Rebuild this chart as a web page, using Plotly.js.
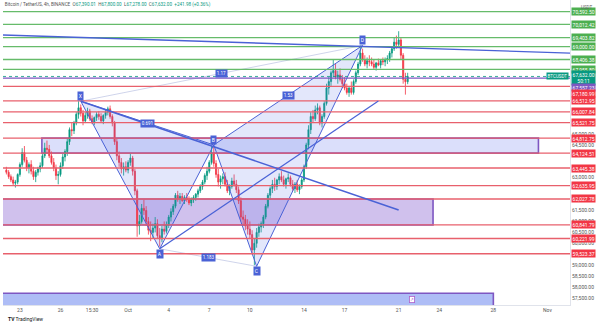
<!DOCTYPE html>
<html><head><meta charset="utf-8">
<script src="https://cdn.plot.ly/plotly-3.0.1.min.js"></script>
<style>html,body{margin:0;padding:0;background:#fff}#chart{width:600px;height:327px}</style>
</head><body><div id="chart"></div>
<script>
// ---- Data (4h candles, BTCUSDT) ----
const startTime = "2024-09-22 00:00";
const opens = [63350,63250,63050,62900,62750,62800, 63150,63600,64150,63800,63450,63600, 63300,63050,63250,63400,63550,64000,
64350,64300,64000,63700,63450,63100, 63150,63550,63950,64200,64650,65200, 65150,65500,65900,66200,65950,65600,
65850,66050,65700,65550,65750,65900, 65800,65600,65850,66000,66150,65800, 65500,64650,64000,63700,63400,63500,
63350,63700,63900,63300,62400,60800, 61000,61600,61500,61000,60600,60500, 60700,60900,60350,60200,60650,60550,
60850,61200,61450,61700,62200,62050, 62150,61950,62100,62000,61850,62000, 62100,62250,62400,62600,62800,63100,
63300,63700,64100,63650,63150,62800, 62950,63050,62700,62400,62600,62850, 62700,62450,61950,61200,61100,60800,
60650,60400,59700,60000,60500,60750, 60900,61200,61700,62200,62500,62700, 62600,62900,63050,62900,62700,62950,
63000,62700,62500,62700,62450,62600, 62900,63500,64500,65200,65800,65700, 66100,66200,65500,65800,66400,67100,
67400,67800,67900,67600,67700,67500, 67300,67100,66900,67100,66900,67400, 67800,68200,68700,68400,68200,68350,
68300,68200,68050,68250,68150,68350, 68300,68400,68450,68700,68900,69200, 69100,69300,68600,67500,67390.01];
const highs = [63500,63350,63150,63050,62900,63200, 63700,64350,64450,63950,63700,63800, 63500,63350,63500,63700,64100,64600,
64700,64500,64200,63900,63600,63300, 63700,64100,64300,64800,65300,65500, 65600,66000,66500,66350,66100,66000,
66200,66150,65850,65800,66000,66050, 65950,65900,66100,66250,66300,65900, 65600,64800,64200,63900,63700,63750,
63800,64100,64000,63400,62500,61300, 61800,62000,61700,61200,61000,60900, 61200,61100,60700,60800,61000,61000,
61300,61600,61800,62300,62400,62300, 62300,62200,62300,62150,62100,62200, 62300,62500,62700,62900,63200,63500,
63800,64450,64450,63800,63400,63100, 63200,63250,62900,62700,63000,63150, 62900,62600,62100,61500,61300,61100,
61000,60600,60200,60700,60900,61000, 61300,61800,62300,62600,62900,63000, 62950,63200,63300,63100,63000,63200,
63100,62900,62800,62900,62700,63000, 63600,64600,65400,66000,66100,66300, 66400,66300,65900,66500,67300,67600,
67900,68400,68200,67900,68000,67700, 67600,67300,67200,67400,67500,67900, 68300,69050,68900,68600,68500,68600,
68500,68400,68300,68450,68400,68500, 68500,68600,68800,69000,69400,69500, 69700,69400,68700,67800,67800];
const lows = [63150,62950,62800,62650,62550,62700, 63050,63500,63700,63300,63200,63150, 62900,62800,63100,63250,63450,63900,
64150,63900,63600,63300,62900,62700, 63050,63400,63750,64000,64500,64900, 65000,65400,65700,65800,65400,65500,
65700,65600,65450,65400,65600,65650, 65500,65450,65700,65850,65700,65350, 64500,63800,63500,63200,63100,63250,
63200,63550,63100,62200,60300,60400, 60900,61300,60800,60400,60100,60200, 60500,60200,59850,60050,60400,60450,
60700,61000,61300,61600,61900,61800, 61900,61800,61900,61750,61700,61850, 61950,62100,62300,62450,62700,62900,
63200,63600,63500,63000,62600,62500, 62700,62600,62300,62200,62500,62600, 62300,61800,61000,60800,60600,60400,
60200,59500,59000,59800,60300,60500, 60700,61100,61600,62000,62300,62400, 62450,62700,62800,62600,62500,62800,
62600,62400,62300,62350,62250,62500, 62800,63400,64300,65000,65500,65600, 65900,65400,65300,65700,66300,66800,
67200,67600,67500,67300,67400,67100, 67000,66800,66700,66800,66800,67300, 67700,68100,68300,68100,68000,68100,
68100,67950,67900,68100,68000,68150, 68100,68200,68300,68500,68800,68900, 69000,68400,67300,66800,67278];
const closes = [63250,63050,62900,62750,62800,63150, 63600,64150,63800,63450,63600,63300, 63050,63250,63400,63550,64000,64350,
64300,64000,63700,63450,63100,63150, 63550,63950,64200,64650,65200,65150, 65500,65900,66200,65950,65600,65850,
66050,65700,65550,65750,65900,65800, 65600,65850,66000,66150,65800,65500, 64650,64000,63700,63400,63500,63350,
63700,63900,63300,62400,60800,61000, 61600,61500,61000,60600,60500,60700, 60900,60350,60200,60650,60550,60850,
61200,61450,61700,62200,62050,62150, 61950,62100,62000,61850,62000,62100, 62250,62400,62600,62800,63100,63300,
63700,64100,63650,63150,62800,62950, 63050,62700,62400,62600,62850,62700, 62450,61950,61200,61100,60800,60650,
60400,59700,60000,60500,60750,60900, 61200,61700,62200,62500,62700,62600, 62900,63050,62900,62700,62950,63000,
62700,62500,62700,62450,62600,62900, 63500,64500,65200,65800,65700,66100, 66200,65500,65800,66400,67100,67400,
67800,67900,67600,67700,67500,67300, 67100,66900,67100,66900,67400,67800, 68200,68700,68400,68200,68350,68300,
68200,68050,68250,68150,68350,68300, 68400,68450,68700,68900,69200,69100, 69300,68600,67500,67390.02,67632];

const greenLevels = [70592.50, 70012.42, 69403.82, 69000.00, 68406.38, 67955.80];
const purpleLevels = [67557.23];
const redLevels = [67180.99, 66512.95, 66007.84, 65521.75, 64812.75, 64124.51, 63445.38, 62635.95, 62027.78, 60841.79, 60221.99, 59523.37];
const lastPrice = 67632.00;
const countdown = "50:11";

// harmonic XABCD pattern points
const patNames = ["X","A","B","C","D"];
const patTimes = ["2024-09-27 12:00","2024-10-03 08:00","2024-10-07 08:00","2024-10-10 12:00","2024-10-18 08:00"];
const patPrices = [66500, 59750, 64500, 58950, 69050];
const ratioLabels = {XB:"0.691", AC:"1.183", XD:"1.17", BD:"1.53"};

// trend lines [t0, p0, t1, p1]
const trendTop = ["2024-09-21 18:00", 69530, "2024-11-02 16:00", 68700];
const trendDown = ["2024-09-27 12:00", 66500, "2024-10-21 00:00", 61525];
const trendUp = ["2024-10-03 08:00", 59750, "2024-10-19 12:00", 66510];

// zones [t0, t1, pLow, pHigh]
const zoneA = ["2024-09-24 15:00", "2024-10-31 08:00", 64124.51, 64812.75];
const zoneB = ["2024-09-21 12:00", "2024-10-23 13:00", 60841.79, 62027.78];
const zoneC = ["2024-09-21 12:00", "2024-10-28 00:00", 56900, 57720];

const xTickVals = ["2024-09-23","2024-09-26","2024-09-28 08:00","2024-10-01","2024-10-04","2024-10-07","2024-10-10","2024-10-14","2024-10-17","2024-10-21","2024-10-24","2024-10-28","2024-11-01"];
const xTickText = ["23","26","15:30","Oct","4","7","10","14","17","21","24","28","Nov"];
const yTickVals = [57500,58000,58500,59000,60000,60500,61000,61500,63000,64500,65000];

// ---- build ----
const times = [];
const t0 = Date.parse(startTime.replace(" ","T")+":00Z");
for (let i=0;i<closes.length;i++){ times.push(new Date(t0+i*4*3600e3).toISOString().slice(0,16).replace("T"," ")); }
function tms(s){return Date.parse(s.replace(" ","T")+":00Z");}
function mid(a,b){return new Date((tms(a)+tms(b))/2).toISOString().slice(0,16).replace("T"," ");}
function fmt(v){return v.toLocaleString("en-US",{minimumFractionDigits:2,maximumFractionDigits:2});}

const BLUE = "#4a62d6";
const PFILL = "rgba(90,112,232,0.17)";
const GREEN = "#66bb6a", RED = "#e8606c", PURPLE = "#7e57c2", TEAL = "#089981";

const traces = [];
traces.push({type:"scatter",mode:"lines",x:[patTimes[0],patTimes[1],patTimes[2],patTimes[0]],y:[patPrices[0],patPrices[1],patPrices[2],patPrices[0]],fill:"toself",fillcolor:PFILL,line:{color:BLUE,width:1},hoverinfo:"skip",showlegend:false});
traces.push({type:"scatter",mode:"lines",x:[patTimes[2],patTimes[3],patTimes[4],patTimes[2]],y:[patPrices[2],patPrices[3],patPrices[4],patPrices[2]],fill:"toself",fillcolor:PFILL,line:{color:BLUE,width:1},hoverinfo:"skip",showlegend:false});
traces.push({type:"scatter",mode:"lines",x:[patTimes[0],patTimes[4]],y:[patPrices[0],patPrices[4]],line:{color:"rgba(120,135,200,0.45)",width:0.8},hoverinfo:"skip",showlegend:false});
traces.push({type:"scatter",mode:"lines",x:[patTimes[1],patTimes[3]],y:[patPrices[1],patPrices[3]],line:{color:"rgba(120,135,200,0.45)",width:0.8},hoverinfo:"skip",showlegend:false});

traces.push({type:"candlestick",x:times,open:opens,high:highs,low:lows,close:closes,
  increasing:{line:{color:TEAL,width:0.8},fillcolor:TEAL},
  decreasing:{line:{color:"#f23645",width:0.8},fillcolor:"#f23645"},
  whiskerwidth:0,hoverinfo:"skip",showlegend:false});

const shapes = [];
function rect(z, fill, line){ shapes.push({type:"rect",xref:"x",yref:"y",x0:z[0],x1:z[1],y0:z[2],y1:z[3],fillcolor:fill,line:{color:line,width:1.6},layer:"below"}); }
rect(zoneA,"rgba(170,178,245,0.42)",PURPLE);
rect(zoneB,"rgba(150,118,215,0.45)",PURPLE);
rect(zoneC,"rgba(120,145,240,0.6)",PURPLE);
function hline(p,c,w,dash){ shapes.push({type:"line",xref:"paper",x0:0,x1:1,yref:"y",y0:p,y1:p,line:{color:c,width:w,dash:dash||"solid"}}); }
greenLevels.forEach(p=>hline(p,GREEN,1.3));
redLevels.forEach(p=>hline(p,RED,1.3));
purpleLevels.forEach(p=>hline(p,PURPLE,1.3));
hline(lastPrice,TEAL,0.8,"dot");
function tline(a,w){ shapes.push({type:"line",xref:"x",yref:"y",x0:a[0],y0:a[1],x1:a[2],y1:a[3],line:{color:BLUE,width:w}}); }
tline(trendTop,1.4); tline(trendDown,1.6); tline(trendUp,1.2);

const ann = [];
function lab(p, txt, bg, ys){ ann.push({xref:"paper",x:1,xanchor:"left",xshift:1,yref:"y",y:p,yshift:ys||0,text:txt,showarrow:false,bgcolor:bg,font:{size:5,color:"#fff",family:"Roboto, DejaVu Sans"},borderpad:0.6}); }
greenLevels.forEach(p=>lab(p,fmt(p),"#4caf50"));
lab(lastPrice, fmt(lastPrice)+"<br>"+countdown, TEAL, -2);
lab(purpleLevels[0], fmt(purpleLevels[0]), PURPLE, -9);
lab(redLevels[0], fmt(redLevels[0]), "#f23645", -7);
redLevels.slice(1).forEach(p=>lab(p,fmt(p),"#f23645"));
ann.push({xref:"paper",x:1,xanchor:"right",xshift:-1,yref:"y",y:lastPrice,text:"BTCUSDT",showarrow:false,bgcolor:TEAL,font:{size:4.5,color:"#fff",family:"Roboto, DejaVu Sans"},borderpad:0.6});
ann.push({xref:"paper",x:1,xanchor:"left",xshift:9,yref:"paper",y:1,yanchor:"top",yshift:-3,text:"USDT",showarrow:false,font:{size:4.5,color:"#666",family:"Roboto, DejaVu Sans"}});
patNames.forEach((n,i)=>{
  const up = (i===0||i===2||i===4);
  ann.push({xref:"x",yref:"y",x:patTimes[i],y:patPrices[i],yshift:up?5:-5,text:n,showarrow:false,bgcolor:BLUE,font:{size:5,color:"#fff",family:"Roboto, DejaVu Sans"},borderpad:0.8});
});
function rlab(i,j,txt){ ann.push({xref:"x",yref:"y",x:mid(patTimes[i],patTimes[j]),y:(patPrices[i]+patPrices[j])/2,text:txt,showarrow:false,bgcolor:BLUE,font:{size:4.5,color:"#fff",family:"Roboto, DejaVu Sans"},borderpad:0.8}); }
rlab(0,2,ratioLabels.XB); rlab(1,3,ratioLabels.AC); rlab(0,4,ratioLabels.XD); rlab(2,4,ratioLabels.BD);
ann.push({xref:"x",yref:"y",x:"2024-10-22 00:00",y:57420,text:"↗",showarrow:false,bgcolor:"#fff",bordercolor:"#b05fc9",borderwidth:0.8,font:{size:4.5,color:"#b05fc9"},borderpad:0.3});
ann.push({xref:"paper",yref:"paper",x:0.005,y:-0.045,xanchor:"left",yanchor:"middle",text:"<b>TV</b> TradingView",showarrow:false,font:{size:5,color:"#131722",family:"Roboto, DejaVu Sans"}});

const n = closes.length;
const lo = opens[n-1], hi = highs[n-1], lw = lows[n-1], cl = closes[n-1];
const chg = cl - closes[n-2];
const g = s => "<span style='color:"+TEAL+"'>"+s+"</span>";
const titleText = "Bitcoin / TetherUS, 4h, BINANCE  O"+g(fmt(lo))+"  H"+g(fmt(hi))+"  L"+g(fmt(lw))+"  C"+g(fmt(cl))+"  "+g("+"+fmt(chg)+" (+"+(chg/closes[n-2]*100).toFixed(2)+"%)");

const layout = {
  width:600,height:327,margin:{l:3,r:30,t:0,b:22},
  paper_bgcolor:"#fff",plot_bgcolor:"#fff",
  font:{family:"Roboto, DejaVu Sans",size:5,color:"#555"},
  title:{text:titleText,x:0.008,xanchor:"left",y:0.99,yanchor:"top",yref:"container",font:{size:4.6,color:"#555",family:"Roboto, DejaVu Sans"}},
  xaxis:{type:"date",range:["2024-09-21 18:00","2024-11-02 16:00"],rangeslider:{visible:false},showgrid:false,zeroline:false,
    tickvals:xTickVals,ticktext:xTickText,ticks:"",tickfont:{size:5,color:"#555"},showline:true,linecolor:"#e0e3eb",linewidth:1,automargin:false},
  yaxis:{side:"right",range:[57180,71128],showgrid:false,zeroline:false,tickvals:yTickVals,tickformat:",.2f",ticks:"",
    tickfont:{size:5,color:"#555"},showline:true,linecolor:"#e0e3eb",linewidth:1,automargin:false,fixedrange:true},
  shapes:shapes,annotations:ann,showlegend:false,dragmode:false
};
Plotly.newPlot("chart",traces,layout,{staticPlot:true,displayModeBar:false});
</script></body></html>
